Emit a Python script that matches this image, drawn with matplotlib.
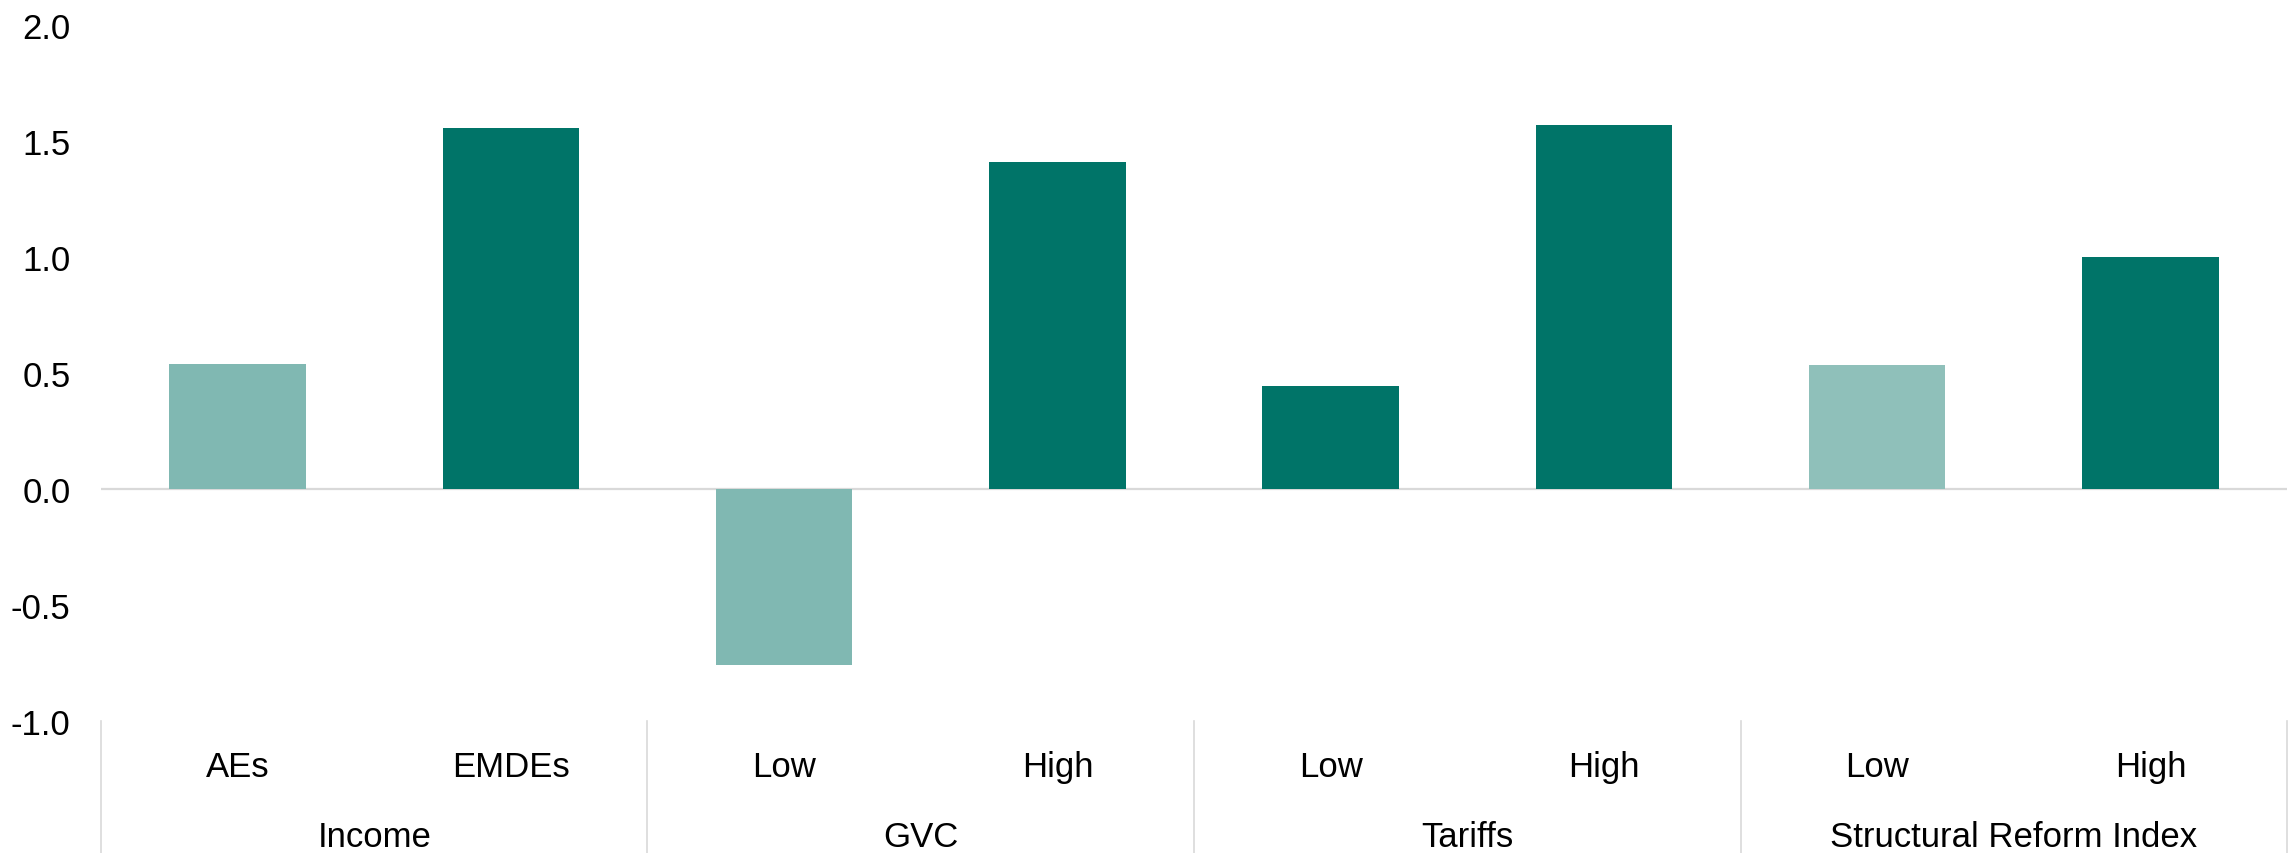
import matplotlib
matplotlib.use("Agg")
import matplotlib.pyplot as plt
import matplotlib.transforms as mtransforms

plt.rcParams['font.family'] = ['Liberation Sans Narrow', 'Liberation Sans', 'DejaVu Sans']

# Subgroup labels, their parent groups and the estimated effects
sub_labels = ['AEs', 'EMDEs', 'Low', 'High', 'Low', 'High', 'Low', 'High']
groups = ['Income', 'GVC', 'Tariffs', 'Structural Reform Index']
values = [0.54, 1.555, -0.76, 1.41, 0.443, 1.57, 0.535, 1.0]
bar_colors = ['#80B8B2', '#007468', '#80B8B2', '#007468',
              '#007468', '#007468', '#8FC0BA', '#007468']

y_ticks = [-1.0, -0.5, 0.0, 0.5, 1.0, 1.5, 2.0]

fig = plt.figure(figsize=(22.9, 8.54), dpi=100)
ax = fig.add_axes([0.0441, 0.1546, 0.9546, 0.815])

x = list(range(len(values)))
ax.bar(x, values, width=0.5, color=bar_colors, zorder=2)
ax.axhline(0, color='#D9D9D9', linewidth=1.6, zorder=1)

ax.set_xlim(-0.5, len(values) - 0.5)
ax.set_ylim(-1.0, 2.0)
ax.set_yticks(y_ticks)
ax.set_yticklabels([f'{t:.1f}' for t in y_ticks])
ax.tick_params(axis='y', length=0, pad=22, labelsize=25)
ax.set_xticks([])

for side in ['top', 'right', 'left', 'bottom']:
    ax.spines[side].set_visible(False)

# Category axis drawn below the plot: labels and group dividers
trans = mtransforms.blended_transform_factory(ax.transData, ax.transAxes)
fig_bottom = -0.1546 / 0.815
for i, lab in enumerate(sub_labels):
    ax.text(i, -0.065, lab, transform=trans, ha='center', va='center', fontsize=25)
for g, name in enumerate(groups):
    ax.text(2 * g + 0.5, -0.166, name, transform=trans, ha='center',
            va='center', fontsize=25)
for b in range(len(groups) + 1):
    ax.plot([2 * b - 0.5, 2 * b - 0.5], [0, fig_bottom], transform=trans,
            color='#D9D9D9', linewidth=1.2, clip_on=False)

fig.savefig('out.png', dpi=100)
